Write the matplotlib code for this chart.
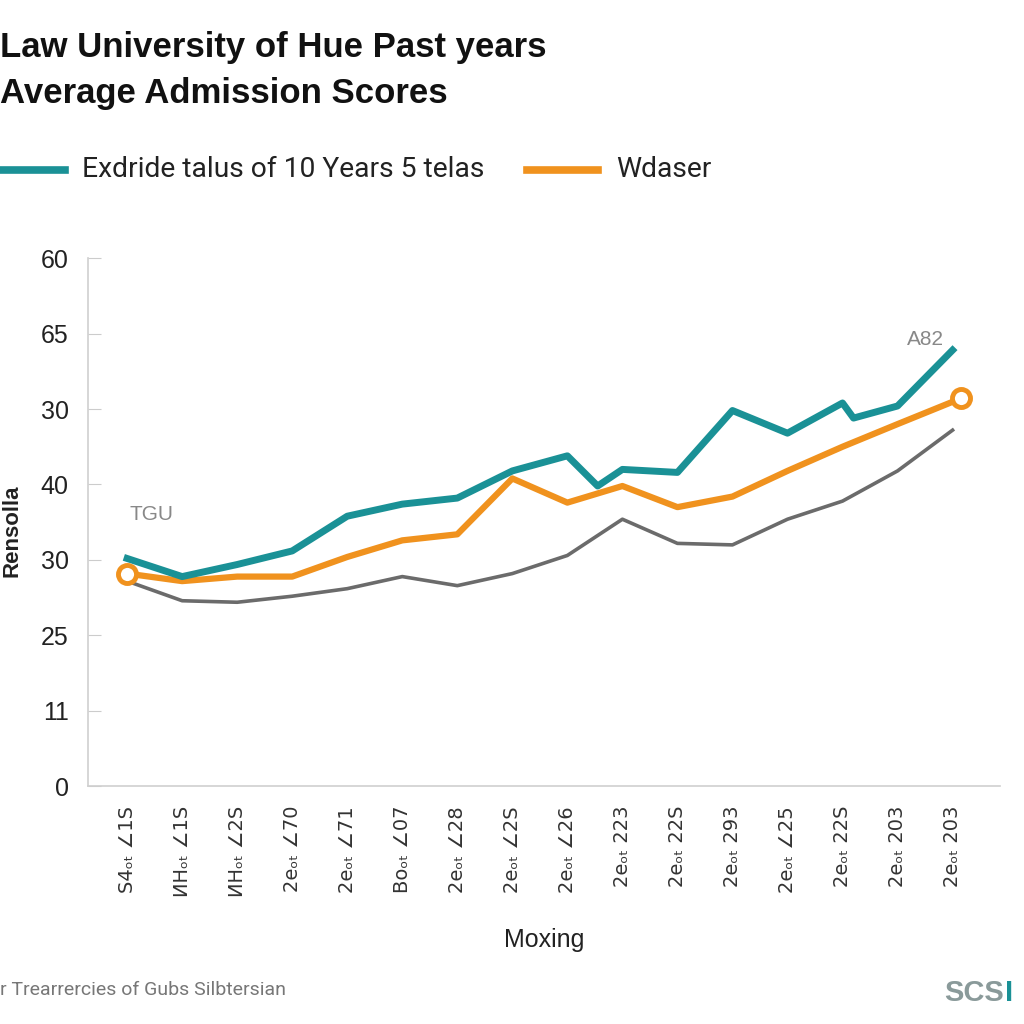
import numpy as np
import matplotlib.pyplot as plt

# tick labels as printed on the chart
x_labels = ["S4ₒₜ ∠1S", "ИHₒₜ ∠1S", "ИHₒₜ ∠2S", "2eₒₜ ∠70", "2eₒₜ ∠71", "Boₒₜ ∠07",
            "2eₒₜ ∠28", "2eₒₜ ∠2S", "2eₒₜ ∠26", "2eₒₜ 223", "2eₒₜ 22S", "2eₒₜ 293",
            "2eₒₜ ∠25", "2eₒₜ 22S", "2eₒₜ 203", "2eₒₜ 203"]
y_ticks = [0, 5, 10, 15, 20, 25, 30, 35]
y_labels = ["0", "11", "25", "30", "40", "30", "65", "60"]

# teal series
teal_x = [0, 1, 2, 3, 4, 5, 6, 7, 8, 8.55, 9, 10, 11, 12, 13, 13.2, 14, 15]
teal_y = [15.1, 13.9, 14.7, 15.6, 17.9, 18.7, 19.1, 20.9, 21.9, 19.9, 21.0, 20.8,
          24.9, 23.4, 25.4, 24.4, 25.2, 28.9]

# orange series
orange_x = [0, 1, 2, 3, 4, 5, 6, 7, 8, 9, 10, 11, 12, 13, 14, 15.15]
orange_y = [14.1, 13.6, 13.9, 13.9, 15.2, 16.3, 16.7, 20.4, 18.8, 19.9, 18.5, 19.2,
            20.9, 22.5, 24.0, 25.7]

# gray series
gray_x = list(range(16))
gray_y = [13.6, 12.3, 12.2, 12.6, 13.1, 13.9, 13.3, 14.1, 15.3, 17.7, 16.1, 16.0,
          17.7, 18.9, 20.9, 23.6]

teal = '#1a9196'
orange = '#f0921e'
gray = '#6b6b6b'

fig = plt.figure(figsize=(10.24, 10.24), dpi=100)
ax = fig.add_axes([0.086, 0.232, 0.891, 0.516])

ax.plot(gray_x, gray_y, color=gray, linewidth=2.6, zorder=2)
ax.plot(orange_x, orange_y, color=orange, linewidth=4.5, zorder=3)
ax.plot(teal_x, teal_y, color=teal, linewidth=5, zorder=4)
ax.plot([orange_x[0], orange_x[-1]], [orange_y[0], orange_y[-1]], 'o', color=orange,
        markerfacecolor='white', markeredgewidth=3.5, markersize=13, zorder=5)

ax.set_xlim(-0.71, 15.87)
ax.set_ylim(0, 35)
ax.set_yticks(y_ticks)
ax.set_yticklabels(y_labels, fontsize=18, color='#222222', family='Liberation Sans')
ax.set_xticks(range(len(x_labels)))
ax.set_xticklabels(x_labels, rotation=90, fontsize=14, color='#333333',
                   family='DejaVu Sans')
ax.tick_params(axis='y', direction='in', length=9, color='#cccccc', pad=14)
ax.tick_params(axis='x', length=0, pad=14)
for s in ['top', 'right']:
    ax.spines[s].set_visible(False)
for s in ['left', 'bottom']:
    ax.spines[s].set_color('#cfcfcf')
    ax.spines[s].set_linewidth(1.2)

ax.text(0.05, 18, 'TGU', color='#888888', fontsize=15, ha='left', va='center',
        family='Liberation Sans')
ax.text(14.5, 29.6, 'A82', color='#888888', fontsize=15, ha='center', va='center',
        family='Liberation Sans')

ax.set_xlabel('Moxing', fontsize=18, color='#222222', labelpad=22,
              family='Liberation Sans')

fig.text(0.0, 0.954, 'Law University of Hue Past years', fontsize=25,
         fontweight='bold', ha='left', va='center', family='Liberation Sans',
         color='#111111')
fig.text(0.0, 0.909, 'Average Admission Scores', fontsize=25,
         fontweight='bold', ha='left', va='center', family='Liberation Sans',
         color='#111111')

# legend
fig.lines.append(plt.Line2D([0.0, 0.063], [0.834, 0.834], color=teal, linewidth=5.5,
                            transform=fig.transFigure))
fig.text(0.08, 0.834, 'Exdride talus of 10 Years 5 telas', fontsize=20.3,
         ha='left', va='center', family='Roboto', color='#222222')
fig.lines.append(plt.Line2D([0.515, 0.584], [0.834, 0.834], color=orange, linewidth=5.5,
                            transform=fig.transFigure))
fig.text(0.602, 0.834, 'Wdaser', fontsize=20.3, ha='left', va='center',
         family='Roboto', color='#222222')

fig.text(0.012, 0.482, 'Rensolla', rotation=90, fontsize=16, fontweight='bold',
         ha='center', va='center', family='Liberation Sans', color='#222222')

fig.text(0.0, 0.033, 'r Trearrercies of Gubs Silbtersian', fontsize=14,
         ha='left', va='center', family='Roboto', color='#777777')
fig.text(0.922, 0.030, 'SCS', fontsize=21, fontweight='bold', ha='left',
         va='center', family='Liberation Sans', color='#8a9a9a')
fig.text(0.981, 0.030, 'I', fontsize=21, fontweight='bold', ha='left',
         va='center', family='Liberation Sans', color=teal)

fig.savefig('out.png', dpi=100, facecolor='white')
